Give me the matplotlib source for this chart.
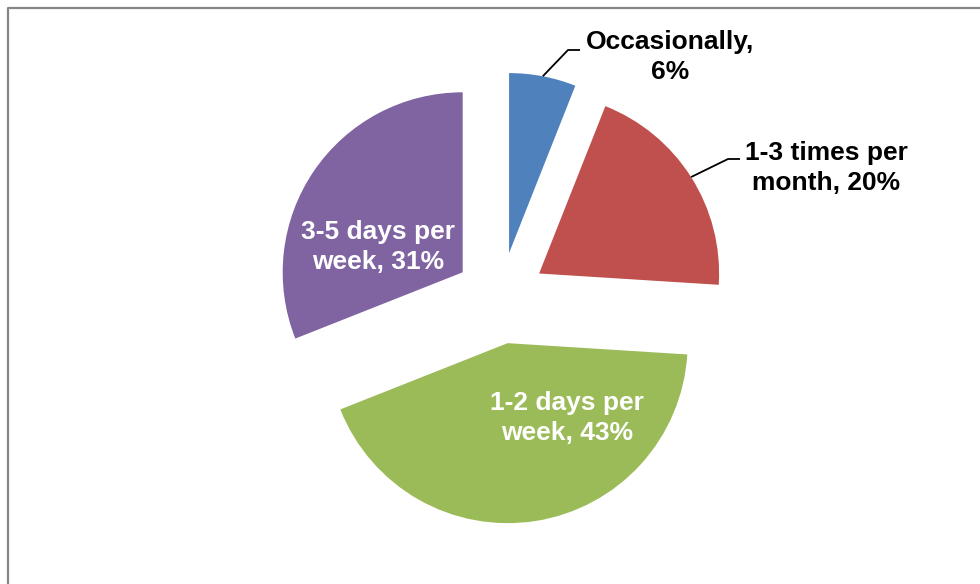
"""Exploded pie: how often respondents do the activity."""

import matplotlib

matplotlib.use("Agg")
import matplotlib.pyplot as plt
import numpy as np

# ---- data -------------------------------------------------------------
categories = ["Occasionally", "1-3 times per\nmonth", "1-2 days per\nweek", "3-5 days per\nweek"]
shares = [6, 20, 43, 31]
colors = ["#4F81BD", "#C0504D", "#9BBB59", "#8064A2"]

# ---- layout (pixel space, y up) ---------------------------------------
W, H = 980, 584
CENTER = (500.5, 286.0)
RADIUS = 180.0
EXPLODE = 0.254 * RADIUS  # matplotlib takes explode in data units

# label anchor for each slice: (x, y, inside?)
label_pos = [
    (670, 527, False),
    (826, 416, False),
    (567, 166, True),
    (378, 337, True),
]
# elbow of leader lines for outside labels, then a short flat run
leader_elbow = {0: (568, 534), 1: (728, 425)}
leader_flat = 12

plt.rcParams["font.family"] = ["Liberation Sans", "DejaVu Sans"]

fig = plt.figure(figsize=(W / 100, H / 100), dpi=100)
ax = fig.add_axes([0, 0, 1, 1])

wedges, _ = ax.pie(
    shares,
    colors=colors,
    startangle=90,
    counterclock=False,
    explode=[EXPLODE] * len(shares),
    radius=RADIUS,
    center=CENTER,
    wedgeprops={"linewidth": 0},
)
ax.set_xlim(0, W)
ax.set_ylim(0, H)
ax.set_aspect("equal")
ax.axis("off")

for i, (wedge, cat, val) in enumerate(zip(wedges, categories, shares)):
    text = f"{cat}, {val}%" if "\n" in cat else f"{cat},\n{val}%"
    x, y, inside = label_pos[i]
    ax.text(
        x, y, text,
        ha="center", va="center",
        fontsize=19, fontweight="bold",
        color="white" if inside else "black",
        linespacing=1.36,
    )
    if not inside:
        mid = np.deg2rad((wedge.theta1 + wedge.theta2) / 2)
        cx, cy = wedge.center
        start = (cx + wedge.r * np.cos(mid), cy + wedge.r * np.sin(mid))
        ex, ey = leader_elbow[i]
        ax.plot([start[0], ex, ex + leader_flat], [start[1], ey, ey],
                color="black", linewidth=1.3, solid_capstyle="butt")

# chart-area border (cropped at right and bottom in the source)
ax.plot([8, 8, W + 5], [-5, H - 8, H - 8], color="#868686", linewidth=1.6,
        clip_on=False)

fig.savefig("out.png", dpi=100)
